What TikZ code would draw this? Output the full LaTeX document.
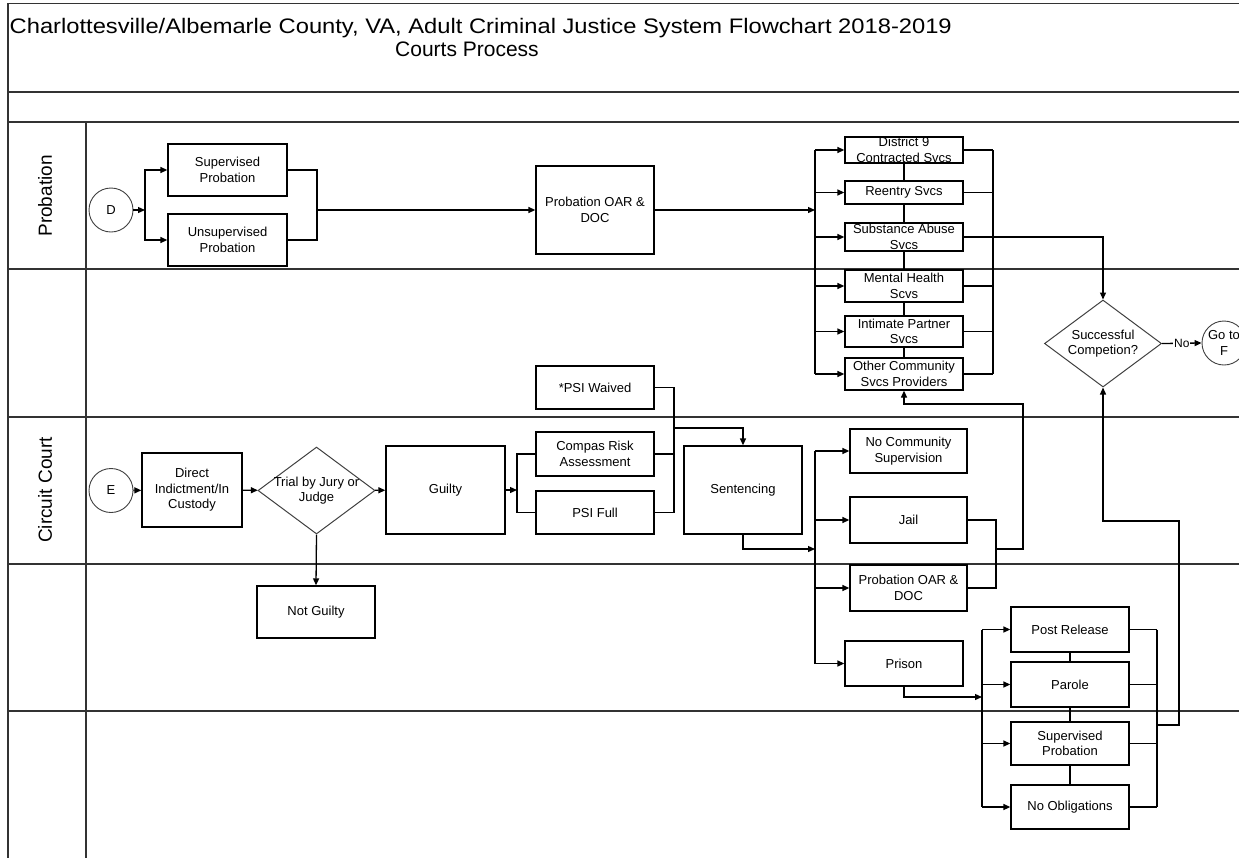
\documentclass[tikz,border=0pt]{standalone}
\usepackage{fontspec}
\setmainfont{Liberation Sans}
\usetikzlibrary{arrows.meta,shapes.geometric}
\begin{document}
\begin{tikzpicture}[x=1pt,y=-1pt,
  frame/.style={line width=1.4pt,black!80},
  box/.style={draw,line width=1.3pt,rectangle,inner sep=0pt,align=center,font=\fontsize{13}{15.5}\selectfont},
  lbl/.style={inner sep=0pt,align=center,font=\fontsize{13}{15.5}\selectfont},
  dia/.style={draw,line width=1pt,black!75,diamond,inner sep=0pt,minimum width=117pt,minimum height=87pt},
  circ/.style={draw,line width=0.9pt,black!75,circle,inner sep=0pt,minimum size=44pt,align=center,text=black,font=\fontsize{13}{15.5}\selectfont},
  conn/.style={line width=1.3pt},
  arr/.style={conn,-{Triangle[length=7pt,width=6pt]}},
  lane/.style={rotate=90,font=\fontsize{19}{22}\selectfont}]
\useasboundingbox (0,0) rectangle (1239,857);
\clip (0,0) rectangle (1239,857);
% frame and lanes
\draw[frame] (1245,3.5) -- (8,3.5) -- (8,860);
\foreach \yy in {92,122,269,417,564,711} \draw[frame] (8,\yy) -- (1245,\yy);
\draw[frame] (86,122) -- (86,860);
\node[anchor=base west,inner sep=0pt,font=\fontsize{21}{24}\selectfont] (title1) at (9.5,33) {\scalebox{1.13}[1]{Charlottesville/Albemarle County, VA, Adult Criminal Justice System Flowchart 2018-2019}};
\node[anchor=base,inner sep=0pt,font=\fontsize{21}{24}\selectfont] (title2) at (467,56) {Courts Process};
\node[lane] (lprob) at (45,196) {Probation};
\node[lane] (lcc) at (45,490) {Circuit Court};
% probation lane
\node[circ] (D) at (111,210) {D};
\node[box,minimum width=119pt,minimum height=52pt] (sp1) at (227.5,170) {Supervised\\Probation};
\node[box,minimum width=119pt,minimum height=52pt] (up1) at (227.5,240) {Unsupervised\\Probation};
\node[box,minimum width=118pt,minimum height=88pt] (oar1) at (595,210) {Probation OAR \&\\DOC};
\node[box,minimum width=118pt,minimum height=26pt,label={[lbl]center:{District 9\\Contracted Svcs}}] (d9) at (904,150) {};
\node[box,minimum width=118pt,minimum height=23pt] (re) at (904,192.5) {Reentry Svcs};
\node[box,minimum width=118pt,minimum height=28pt,label={[lbl]center:{Substance Abuse\\Svcs}}] (sa) at (904,237) {};
\node[box,minimum width=118pt,minimum height=32pt] (mh) at (904,286) {Mental Health\\Scvs};
\node[box,minimum width=118pt,minimum height=31pt] (ip) at (904,331.5) {Intimate Partner\\Svcs};
\node[box,minimum width=118pt,minimum height=32pt] (oc) at (904,374) {Other Community\\Svcs Providers};
\node[dia,label={[lbl]center:{Successful\\Competion?}}] (sc) at (1103,343.5) {};
\node[circ] (gof) at (1224,343) {Go to\\F};
% circuit court lane
\node[circ] (E) at (111,490.5) {E};
\node[box,minimum width=100pt,minimum height=74pt] (di) at (192,490) {Direct\\Indictment/In\\Custody};
\node[dia,label={[lbl]center:{Trial by Jury or\\Judge}}] (tr) at (316.5,490.5) {};
\node[box,minimum width=119pt,minimum height=88pt] (gu) at (445.5,490) {Guilty};
\node[box,minimum width=118pt,minimum height=52pt] (ng) at (316,612) {Not Guilty};
\node[box,minimum width=118pt,minimum height=43pt] (pw) at (595,387.5) {*PSI Waived};
\node[box,minimum width=118pt,minimum height=44pt] (cr) at (595,454) {Compas Risk\\Assessment};
\node[box,minimum width=118pt,minimum height=43pt] (pf) at (595,512.5) {PSI Full};
\node[box,minimum width=118pt,minimum height=88pt] (se) at (743,490) {Sentencing};
\node[box,minimum width=117pt,minimum height=44pt] (nc) at (908.5,451) {No Community\\Supervision};
\node[box,minimum width=117pt,minimum height=46pt] (ja) at (908.5,520) {Jail};
\node[box,minimum width=117pt,minimum height=46pt] (oar2) at (908.5,588) {Probation OAR \&\\DOC};
\node[box,minimum width=118pt,minimum height=45pt] (pr) at (904,663.5) {Prison};
\node[box,minimum width=118pt,minimum height=45pt] (pre) at (1070,629.5) {Post Release};
\node[box,minimum width=118pt,minimum height=45pt] (pa) at (1070,684.5) {Parole};
\node[box,minimum width=118pt,minimum height=43pt] (sp2) at (1070,743.5) {Supervised\\Probation};
\node[box,minimum width=118pt,minimum height=44pt] (no) at (1070,807) {No Obligations};
% coordinates
\coordinate (jD) at (145,210);
\coordinate (jP) at (317,210);
\coordinate (bS) at (815,210);
\coordinate (rS) at (993,210);
\coordinate (jG) at (517,490);
\coordinate (jR) at (674,428);
\coordinate (jS) at (815,549);
\coordinate (jJ) at (996,549);
\coordinate (kJ) at (1023,404);
\coordinate (jPr) at (982,697);
\coordinate (rP) at (1157,697);
\coordinate (jO) at (1157,725);
\coordinate (kO) at (1179,521);
% probation connectors
\draw[arr] (D) -- (jD);
\draw[arr] (jD) |- (sp1.west);
\draw[arr] (jD) |- (up1.west);
\draw[conn] (sp1.east) -| (jP) |- (up1.east);
\draw[arr] (jP) -- (oar1.west);
\draw[arr] (oar1.east) -- (bS);
\draw[conn] (d9.west -| bS) -- (oc.west -| bS);
\foreach \n in {d9,re,sa,mh,ip,oc} {
  \draw[arr] (\n.west -| bS) -- (\n.west);
  \draw[conn] (\n.east) -- (\n.east -| rS);
}
\draw[conn] (d9.east -| rS) -- (oc.east -| rS);
\draw[conn] (d9.south) -- (re.north) (re.south) -- (sa.north) (sa.south) -- (mh.north) (mh.south) -- (ip.north) (ip.south) -- (oc.north);
\draw[arr] (sa.east) -| (sc.north);
\draw[arr] (sc.east) -- node[fill=white,inner sep=1pt,font=\fontsize{12}{14}\selectfont] {No} (gof.west);
% circuit court connectors
\draw[arr] (E) -- (di);
\draw[arr] (di) -- (tr);
\draw[arr] (tr) -- (gu);
\draw[arr] (tr.south) -- (ng.north);
\draw[arr] (gu.east) -- (jG);
\draw[conn] (cr.west) -| (jG) |- (pf.west);
\draw[conn] (pw.east) -| (pf.east -| jR) -- (pf.east);
\draw[conn] (cr.east) -- (cr.east -| jR);
\draw[arr] (jR) -| (se.north);
\draw[arr] (se.south) |- (jS);
\draw[conn] (nc.west -| jS) -- (pr.west -| jS);
\foreach \n in {nc,ja,oar2,pr} \draw[arr] (\n.west -| jS) -- (\n.west);
\draw[conn] (ja.east) -| (jJ) |- (oar2.east);
\draw[arr] (jJ) -| (kJ) -| (oc.south);
\draw[arr] (pr.south) |- (jPr);
\draw[conn] (pre.west -| jPr) -- (no.west -| jPr);
\foreach \n in {pre,pa,sp2,no} {
  \draw[arr] (\n.west -| jPr) -- (\n.west);
  \draw[conn] (\n.east) -- (\n.east -| rP);
}
\draw[conn] (pre.east -| rP) -- (no.east -| rP);
\draw[conn] (pre.south) -- (pa.north) (pa.south) -- (sp2.north) (sp2.south) -- (no.north);
\draw[arr] (jO) -| (kO) -| (sc.south);
\end{tikzpicture}
\end{document}
